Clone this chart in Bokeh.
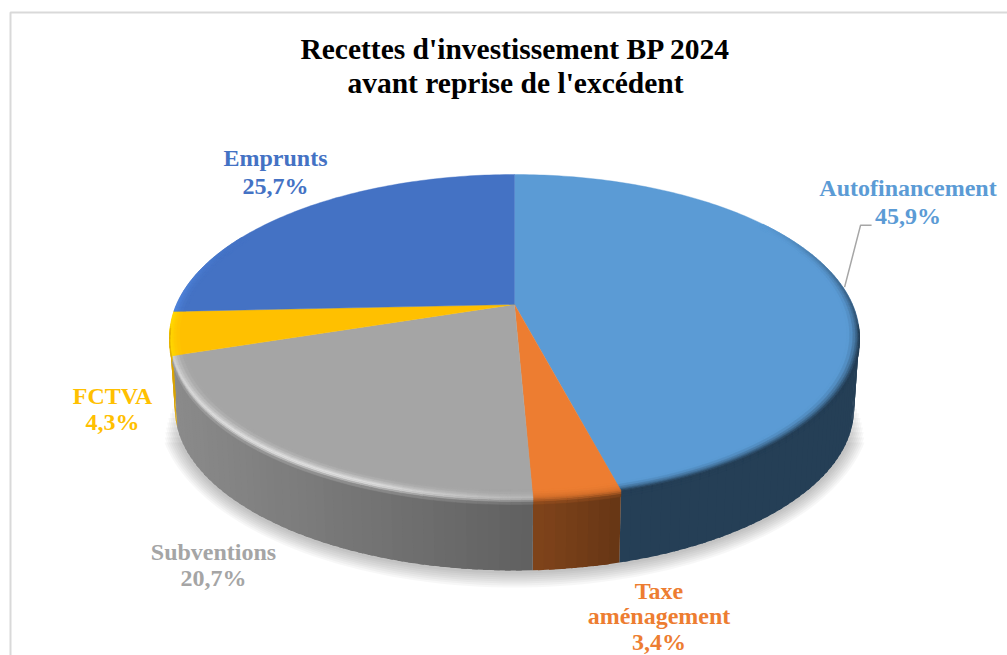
import math
from bokeh.embed import file_html
from bokeh.resources import INLINE
from bokeh.plotting import figure
from bokeh.models import Range1d, ColumnDataSource
from bokeh.core.properties import value

# --- data ---
title_lines = ["Recettes d'investissement BP 2024", "avant reprise de l'excédent"]
categories = ["Autofinancement", "Taxe aménagement", "Subventions", "FCTVA", "Emprunts"]
shares = [45.9, 3.4, 20.7, 4.3, 25.7]
base_colors = ["#5b9bd5", "#ed7d31", "#a5a5a5", "#ffc000", "#4472c4"]

# --- geometry of the perspective pie (page pixels) ---
W, H = 1007, 655
OFF = 0
CX, CY = 514.0, 304.0
PERSP, A, B = 0.1975, 155.7, 338.0
DEPTH = 72.0
FONT = value("Liberation Serif")


def proj(theta, rho=1.0):
    t = math.radians(theta)
    u, v = rho * math.sin(t), rho * math.cos(t)
    d = 1 + PERSP * v
    return CX + B * u / d, CY - A * v / d


def lower(theta, grow=0.0):
    x, y = proj(theta)
    sx = (x - CX) * 0.985
    n = math.hypot(sx, (y + DEPTH - 408) * 2)
    return CX + sx + grow * sx / max(n, 1), y + DEPTH + grow * (y + DEPTH - 408) * 2 / max(n, 1)


def rgb(h):
    return tuple(int(h[i:i + 2], 16) for i in (1, 3, 5))


def mix(a, b, f):
    f = max(0.0, min(1.0, f))
    return tuple(a[i] + (b[i] - a[i]) * f for i in range(3))


def tohex(c):
    return "#%02x%02x%02x" % tuple(int(round(max(0, min(255, x)))) for x in c)


def wall_color(i, x):
    base = rgb(base_colors[i])
    if i == 2:
        m = 0.84 + (0.58 - 0.84) * (x - 172) / (533 - 172)
    elif i == 1:
        m = 0.54 + (0.43 - 0.54) * (x - 533) / (618 - 533)
    elif i == 3:
        m = 0.85
    else:
        m = 0.405
    return tuple(c * m for c in base)


def rim_peak(i, theta, x):
    base = rgb(base_colors[i])
    if i == 0:
        return mix(base, wall_color(0, x), (theta - 55) / 45)
    if i == 1:
        return (205, 108, 42)
    if i == 2:
        g = 205 + 28 * math.sin(math.radians((theta - 165) * 180 / 95))
        if theta < 200:
            g = 185 + (g - 185) * (theta - 177) / 23
        return (g, g, g)
    if i == 3:
        return (255, 218, 0)
    return mix((80, 134, 222), base, (theta - 268) / 30)


# slice boundaries, clockwise from 12 o'clock
edges = [0.0]
for s in shares:
    edges.append(edges[-1] + s * 3.6)

p = figure(width=W, height=H, output_backend="svg", toolbar_location=None,
           x_range=Range1d(OFF, OFF + W), y_range=Range1d(OFF + H, OFF),
           min_border=0, outline_line_color=None, background_fill_color="white",
           border_fill_color="white")
p.xaxis.visible = False
p.yaxis.visible = False
p.grid.visible = False

# chart frame
p.line([10, 10, OFF + W], [OFF + H, 12, 12], line_color="#d9d9d9", line_width=2)

# soft shadow beneath the drum
for k, g in enumerate([17, 15, 13, 11, 9, 7, 5, 3]):
    t0, t1 = 100 + (8 - k) * 1.5, 260 - (8 - k) * 1.5
    n = 90
    pts = [lower(t0 + (t1 - t0) * j / n, g) for j in range(n + 1)]
    p.patch([q[0] for q in pts], [q[1] for q in pts], fill_color="black",
            fill_alpha=0.03, line_color=None)

# drum walls (each quad overlaps its neighbour so no seams appear)
wx, wy, wc = [], [], []
for i in range(len(shares)):
    a, b = max(edges[i], 97.0), min(edges[i + 1], 263.0)
    if b <= a:
        continue
    n = max(1, int((b - a) / 1.5))
    for j in range(n):
        t1, t2 = a + (b - a) * j / n, a + (b - a) * (j + 1) / n
        t2o = t2 + (0.8 if j < n - 1 else 0.0)
        x1, y1 = proj(t1)
        x2, y2 = proj(t2o)
        x3, y3 = lower(t2o)
        x4, y4 = lower(t1)
        wx.append([x1, x2, x3, x4])
        wy.append([y1, y2, y3, y4])
        wc.append(tohex(wall_color(i, (x1 + x2) / 2)))
src = ColumnDataSource(dict(x=wx, y=wy, c=wc))
p.patches("x", "y", source=src, fill_color="c", line_color=None)

# top face
fx, fy, fc = [], [], []
for i in range(len(shares)):
    a, b = edges[i], edges[i + 1]
    n = max(2, int((b - a) / 1.0))
    pts = [proj(a + (b - a) * j / n) for j in range(n + 1)]
    fx.append([CX] + [q[0] for q in pts])
    fy.append([CY] + [q[1] for q in pts])
    fc.append(base_colors[i])
src = ColumnDataSource(dict(x=fx, y=fy, c=fc))
p.patches("x", "y", source=src, fill_color="c", line_color="c", line_width=0.4)

# bevel: bands that follow the rim of each slice
bands = [-1.0, -0.75, -0.5, -0.3, -0.15, 0.0, 0.3, 0.6, 1.0]
BEVEL_IN, BEVEL_OUT = 0.036, 6.0


def rim_point(theta, s):
    if s <= 0:
        return proj(theta, 1 + BEVEL_IN * s)
    x, y = proj(theta)
    return x, y + BEVEL_OUT * s


bx, by, bc = [], [], []
for i in range(len(shares)):
    a, b = edges[i], edges[i + 1]
    if i == 0:
        a = 55.0
    if i == 4:
        b = min(b, 298.0)
    n = max(1, int((b - a) / 1.5))
    base = rgb(base_colors[i])
    for j in range(n):
        t1, t2 = a + (b - a) * j / n, a + (b - a) * (j + 1) / n
        tm = (t1 + t2) / 2
        xm = proj(tm)[0]
        peak = rim_peak(i, tm, xm)
        wall = wall_color(i, xm)
        on_wall = 97 <= tm <= 263
        for k in range(len(bands) - 1):
            s1, s2 = bands[k], bands[k + 1]
            if s2 > 0 and not on_wall:
                continue
            sm = (s1 + s2) / 2
            if sm < 0:
                col = mix(base, peak, (1 + sm) ** 2)
            else:
                col = mix(peak, wall, sm)
            q1, q2 = rim_point(t1, s1), rim_point(t2, s1)
            q3, q4 = rim_point(t2, s2), rim_point(t1, s2)
            bx.append([q1[0], q2[0], q3[0], q4[0]])
            by.append([q1[1], q2[1], q3[1], q4[1]])
            bc.append(tohex(col))
src = ColumnDataSource(dict(x=bx, y=by, c=bc))
p.patches("x", "y", source=src, fill_color="c", line_color="c", line_width=0.5)

# leader line of the first label
lx, ly = proj(83.5, 1.005)
p.line([lx, lx + 16, lx + 27], [ly, ly - 62, ly - 62], line_color="#a6a6a6", line_width=1.5)

# title
tx = ColumnDataSource(dict(x=[515, 515], y=[48, 82], t=title_lines))
p.text("x", "y", text="t", source=tx, text_font=FONT, text_font_style="bold",
       text_font_size="29.5px", text_color="black", text_align="center", text_baseline="middle")

# labels
pct = [("%.1f%%" % s).replace(".", ",") for s in shares]
label_lines = [
    ["Autofinancement", pct[0]],
    ["Taxe", "aménagement", pct[1]],
    ["Subventions", pct[2]],
    ["FCTVA", pct[3]],
    ["Emprunts", pct[4]],
]
label_anchor = [(907.5, 187, 28), (658.5, 590, 25.5), (213, 551, 26), (112, 395, 26), (275, 157, 28)]
for i, lines in enumerate(label_lines):
    ax, ay, lh = label_anchor[i]
    s = ColumnDataSource(dict(x=[ax] * len(lines), y=[ay + lh * k for k in range(len(lines))], t=lines))
    p.text("x", "y", text="t", source=s, text_font=FONT, text_font_style="bold",
           text_font_size="24px", text_color=base_colors[i], text_align="center",
           text_baseline="middle")

open("out.html", "w").write(file_html(p, INLINE))
